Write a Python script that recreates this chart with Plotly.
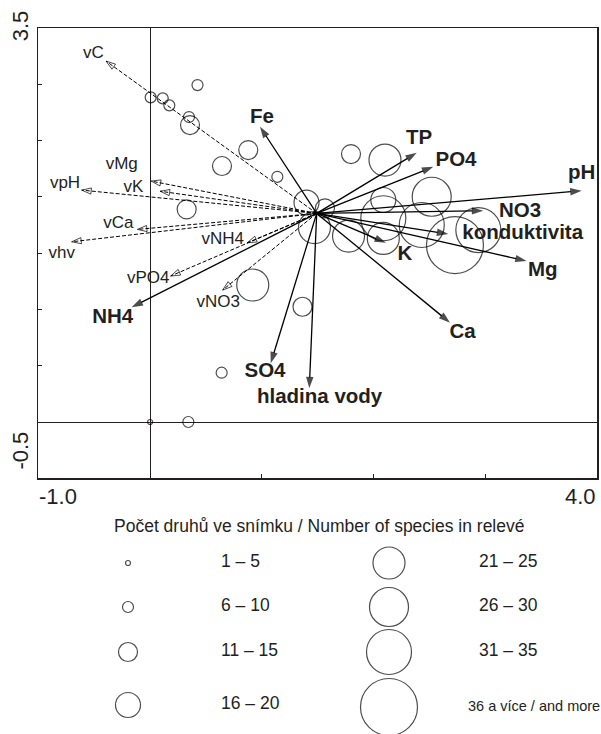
import plotly.graph_objects as go

FONT = "Liberation Sans, Arial, sans-serif"

# ---------------- data ----------------
# species-richness classes (legend)
class_labels = ["1 – 5", "6 – 10", "11 – 15", "16 – 20",
                "21 – 25", "26 – 30", "31 – 35", "36 a více / and more"]
class_sizes = [5, 11, 19, 25, 32, 39, 45, 57]

# relevés (samples)
sample_x = [0.424, 0.005, 0.113, 0.172, 0.348, 0.357, 0.878, 0.643, 1.138, 0.327,
            1.399, 1.564, 1.470, 1.775, 2.086, 2.086, 2.086, 1.797, 2.101, 2.519,
            2.430, 2.727, 2.936, 1.363, 0.918, 0.640, 0.342, 0.000]
sample_y = [2.993, 2.884, 2.875, 2.813, 2.709, 2.638, 2.416, 2.274, 2.178, 1.889,
            1.949, 1.898, 1.727, 1.652, 1.972, 1.810, 1.631, 2.380, 2.327, 2.001,
            1.750, 1.572, 1.705, 1.024, 1.217, 0.438, 0.000, 0.000]
sample_class = [1, 1, 1, 1, 1, 2, 2, 2, 1, 2,
                3, 2, 4, 4, 3, 6, 4, 2, 4, 5,
                6, 7, 6, 2, 4, 1, 1, 0]

# common origin of the vectors
origin_x = 1.490
origin_y = 1.853

# environmental variables (solid arrows)
env_names = ["Fe", "TP", "PO4", "pH", "NO3", "konduktivita", "Mg", "K", "Ca",
             "SO4", "hladina vody", "NH4"]
env_x = [0.983, 2.385, 2.533, 3.860, 2.980, 2.667, 3.368, 2.110, 2.683,
         1.079, 1.424, -0.165]
env_y = [2.623, 2.392, 2.267, 2.054, 1.877, 1.670, 1.430, 1.592, 0.882,
         0.521, 0.299, 1.019]
env_label_x = [1.001, 2.405, 2.736, 3.860, 3.309, 3.333, 3.512, 2.280, 2.796,
               1.028, 1.516, -0.335]
env_label_y = [2.700, 2.513, 2.321, 2.202, 1.868, 1.672, 1.344, 1.483, 0.793,
               0.447, 0.210, 0.921]

# supplementary variables (dashed arrows)
sup_names = ["vC", "vMg", "vK", "vpH", "vCa", "vhv", "vNH4", "vPO4", "vNO3"]
sup_x = [-0.394, 0.010, 0.090, -0.612, -0.114, -0.701, 0.869, 0.184, 0.649]
sup_y = [3.206, 2.140, 2.050, 2.060, 1.711, 1.601, 1.592, 1.297, 1.172]
sup_label_x = [-0.508, -0.254, -0.150, -0.761, -0.284, -0.791, 0.649, -0.016, 0.610]
sup_label_y = [3.274, 2.282, 2.084, 2.120, 1.758, 1.498, 1.623, 1.276, 1.060]

# axis ticks
x_ticks = [-1, 0, 1, 2, 3, 4]
y_ticks = [-0.5, 0.0, 0.5, 1.0, 1.5, 2.0, 2.5, 3.0, 3.5]
x_end_labels = ["-1.0", "4.0"]
y_end_labels = ["-0.5", "3.5"]
legend_title = "Počet druhů ve snímku / Number of species in relevé"

# ---------------- figure ----------------
W, H = 601, 734
PL, PR, PT, PB = 38.3, 597.3, 28.0, 478.3   # plot frame in px

fig = go.Figure()

# samples
fig.add_trace(go.Scatter(
    x=sample_x, y=sample_y, mode="markers",
    marker=dict(symbol="circle-open", size=[class_sizes[c] for c in sample_class],
                color="black", line=dict(width=1.2, color="black")),
    hoverinfo="skip", showlegend=False))

# dashed supplementary arrows
for nx, ny in zip(sup_x, sup_y):
    fig.add_trace(go.Scatter(
        x=[origin_x, nx], y=[origin_y, ny], mode="lines+markers",
        line=dict(color="black", width=1, dash="4px,2px"),
        marker=dict(symbol="arrow-open", size=[0, 10], angleref="previous",
                    color="black", line=dict(width=1, color="black")),
        hoverinfo="skip", showlegend=False))

# solid environmental arrows
for nx, ny in zip(env_x, env_y):
    fig.add_trace(go.Scatter(
        x=[origin_x, nx], y=[origin_y, ny], mode="lines+markers",
        line=dict(color="black", width=1.3),
        marker=dict(symbol="arrow", size=[0, 12], angleref="previous",
                    color="black", line=dict(width=0)),
        hoverinfo="skip", showlegend=False))

# labels
fig.add_trace(go.Scatter(
    x=sup_label_x, y=sup_label_y, mode="text", text=sup_names,
    textposition="middle center",
    textfont=dict(family=FONT, size=17, color="#231f20"),
    hoverinfo="skip", showlegend=False))
fig.add_trace(go.Scatter(
    x=env_label_x, y=env_label_y, mode="text", text=env_names,
    textposition="middle center",
    textfont=dict(family=FONT, size=20.5, color="#231f20", weight="bold"),
    hoverinfo="skip", showlegend=False))

# ---------------- legend (second, hidden axes in pixel units) ----------------
left_rows_y = [563, 607, 652, 705]
right_rows_y = [563, 607, 652, 707]
leg_x, leg_y, leg_s, txt_x, txt_y, txt, txt_size = [], [], [], [], [], [], []
for i in range(8):
    col = i // 4
    row = i % 4
    cy = (left_rows_y if col == 0 else right_rows_y)[row]
    leg_x.append(128 if col == 0 else 389)
    leg_y.append(cy)
    leg_s.append(class_sizes[i])
    last = (i == 7)
    txt_x.append(221 if col == 0 else (468 if last else 479))
    txt_y.append(cy)
    txt.append(class_labels[i])
    txt_size.append(14.5 if last else 17.5)

fig.add_trace(go.Scatter(
    x=leg_x, y=leg_y, xaxis="x2", yaxis="y2", mode="markers",
    marker=dict(symbol="circle-open", size=leg_s, color="black",
                line=dict(width=1.2, color="black")),
    hoverinfo="skip", showlegend=False))
fig.add_trace(go.Scatter(
    x=txt_x, y=txt_y, xaxis="x2", yaxis="y2", mode="text", text=txt,
    textposition="middle right",
    textfont=dict(family=FONT, size=txt_size, color="#231f20"),
    hoverinfo="skip", showlegend=False))

annotations = [
    dict(text=legend_title, xref="x2", yref="y2", x=319, y=526,
         showarrow=False, font=dict(family=FONT, size=17.5, color="#231f20")),
    dict(text=x_end_labels[0], xref="x domain", yref="y domain", x=0, y=0,
         xanchor="left", yanchor="middle", yshift=-18, xshift=-1,
         showarrow=False, font=dict(family=FONT, size=22, color="#231f20")),
    dict(text=x_end_labels[1], xref="x domain", yref="y domain", x=1, y=0,
         xanchor="right", yanchor="middle", yshift=-18, xshift=1,
         showarrow=False, font=dict(family=FONT, size=22, color="#231f20")),
    dict(text=y_end_labels[0], xref="x domain", yref="y domain", x=0, y=0,
         xanchor="center", yanchor="middle", xshift=-18, yshift=28, textangle=-90,
         showarrow=False, font=dict(family=FONT, size=22, color="#231f20")),
    dict(text=y_end_labels[1], xref="x domain", yref="y domain", x=0, y=1,
         xanchor="center", yanchor="middle", xshift=-18, yshift=2, textangle=-90,
         showarrow=False, font=dict(family=FONT, size=22, color="#231f20")),
]

axis_common = dict(showgrid=False, showline=True, mirror=True, linecolor="#231f20",
                   linewidth=1.3, ticks="inside", ticklen=4, tickcolor="#231f20",
                   showticklabels=False, zeroline=True, zerolinecolor="#231f20",
                   zerolinewidth=1)

fig.update_layout(
    width=W, height=H,
    margin=dict(l=0, r=0, t=0, b=0),
    paper_bgcolor="white", plot_bgcolor="white",
    xaxis=dict(domain=[PL / W, PR / W], range=[-1, 4], tickvals=x_ticks,
               anchor="y", **axis_common),
    yaxis=dict(domain=[1 - PB / H, 1 - PT / H], range=[-0.5, 3.5], tickvals=y_ticks,
               anchor="x", **axis_common),
    xaxis2=dict(domain=[0, 1], range=[0, W], visible=False, anchor="y2"),
    yaxis2=dict(domain=[0, (H - 500) / H], range=[H, 500], visible=False, anchor="x2"),
    annotations=annotations,
    showlegend=False,
)

fig.write_html(
    "out.html",
    config={"displayModeBar": False, "staticPlot": True},
    post_script="document.body.style.margin='0px';document.body.style.overflow='hidden';",
)
